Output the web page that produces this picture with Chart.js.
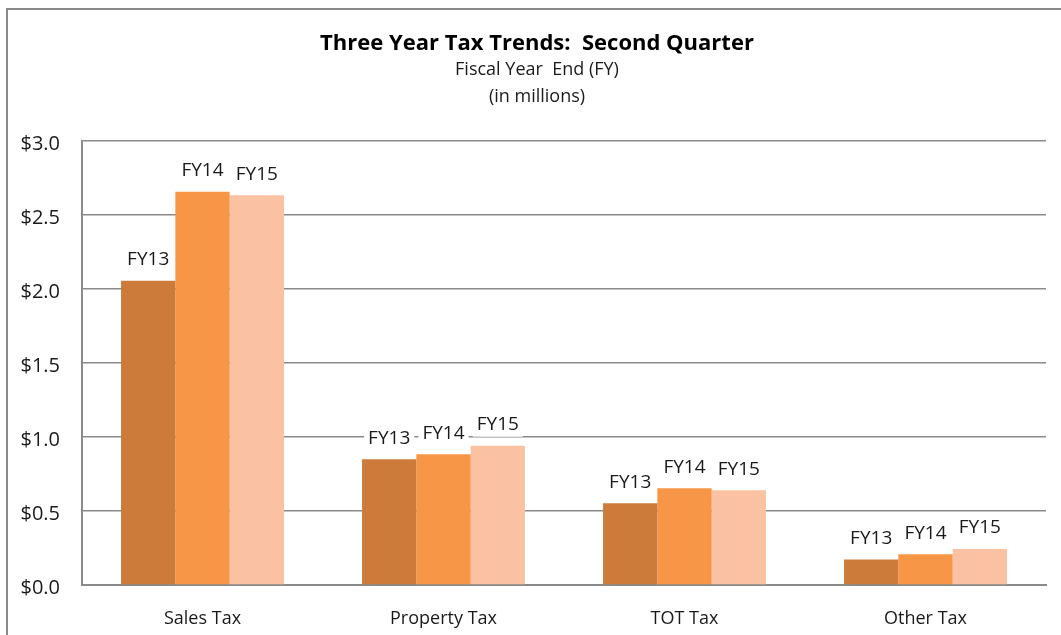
<!DOCTYPE html>
<html>
<head>
<meta charset="utf-8">
<script src="https://cdn.jsdelivr.net/npm/chart.js@4.4.3/dist/chart.umd.min.js"></script>
<style>
  html, body { margin: 0; padding: 0; background: #fff; }
  #wrap { width: 1061px; height: 635px; }
</style>
</head>
<body>
<div id="wrap"><canvas id="chart"></canvas></div>
<script>

// Categories and series values (in millions).
const categories = ['Sales Tax', 'Property Tax', 'TOT Tax', 'Other Tax']
const seriesNames = ['FY13', 'FY14', 'FY15']
const fy13 = [2.056, 0.849, 0.552, 0.173]
const fy14 = [2.657, 0.883, 0.653, 0.207]
const fy15 = [2.633, 0.941, 0.640, 0.243]
const yTicks = [0, 0.5, 1.0, 1.5, 2.0, 2.5, 3.0]

const titleText = 'Three Year Tax Trends:  Second Quarter'
const subtitleLines = ['Fiscal Year  End (FY)', '(in millions)']

const colors = ['#CC7B3B', '#F79646', '#FAC2A3']
const fontFamily = '"Open Sans", "Noto Sans", sans-serif'

// Outer frame of the chart, clipped at right and bottom like the reference.
const frame = {
  id: 'frame',
  beforeDraw(chart) {
    const ctx = chart.ctx
    ctx.save()
    ctx.strokeStyle = '#8a8a8a'
    ctx.lineWidth = 2
    ctx.strokeRect(7, 9, chart.width + 20, chart.height + 20)
    ctx.restore()
  }
}

// Title block, centred a little right of the canvas middle as in the reference.
const titleBlock = {
  id: 'titleBlock',
  afterDraw(chart) {
    const ctx = chart.ctx
    const cx = 537
    ctx.save()
    ctx.textAlign = 'center'
    ctx.textBaseline = 'middle'
    ctx.fillStyle = '#000'
    ctx.font = `bold 22px ${fontFamily}`
    ctx.fillText(titleText, cx, 44)
    ctx.fillStyle = '#1a1a1a'
    ctx.font = `18px ${fontFamily}`
    subtitleLines.forEach((line, i) => ctx.fillText(line, cx, 70 + i * 27))
    ctx.restore()
  }
}

// Series name above each bar, on a white box that hides the gridline.
const barLabels = {
  id: 'barLabels',
  afterDatasetsDraw(chart) {
    const ctx = chart.ctx
    ctx.save()
    ctx.font = `19px ${fontFamily}`
    ctx.textAlign = 'center'
    ctx.textBaseline = 'middle'
    chart.data.datasets.forEach((dataset, i) => {
      chart.getDatasetMeta(i).data.forEach(bar => {
        const y = bar.y - 21
        const w = ctx.measureText(dataset.label).width + 8
        ctx.fillStyle = '#fff'
        ctx.fillRect(bar.x - w / 2, y - 12, w, 24)
        ctx.fillStyle = '#1a1a1a'
        ctx.fillText(dataset.label, bar.x, y)
      })
    })
    ctx.restore()
  }
}

const datasets = [fy13, fy14, fy15].map((data, i) => ({
  label: seriesNames[i],
  data,
  backgroundColor: colors[i],
  borderWidth: 0
}))

new Chart(document.getElementById('chart'), {
  type: 'bar',
  data: { labels: categories, datasets },
  plugins: [frame, titleBlock, barLabels],
  options: {
    responsive: true,
    maintainAspectRatio: false,
    animation: false,
    layout: { padding: { left: 0, right: 15, top: 141, bottom: 0 } },
    datasets: {
      bar: { categoryPercentage: 0.676, barPercentage: 1 }
    },
    plugins: {
      legend: { display: false },
      tooltip: { enabled: false },
      title: { display: false }
    },
    scales: {
      x: {
        grid: { display: false, drawTicks: false },
        border: { color: '#8a8a8a', width: 2 },
        ticks: {
          color: '#1a1a1a',
          padding: 23,
          font: { family: fontFamily, size: 18 }
        },
        afterFit: scale => { scale.height = 50 }
      },
      y: {
        min: 0,
        max: 3,
        afterBuildTicks: scale => {
          scale.ticks = yTicks.map(value => ({ value }))
        },
        grid: { color: '#8a8a8a', lineWidth: 1.5, drawTicks: false },
        border: { color: '#8a8a8a', width: 2 },
        ticks: {
          color: '#1a1a1a',
          padding: 22,
          labelOffset: 3,
          font: { family: fontFamily, size: 20 },
          callback: val => `$${Number(val).toFixed(1)}`
        },
        afterFit: scale => { scale.width = 82 }
      }
    }
  }
})
</script>
</body>
</html>
